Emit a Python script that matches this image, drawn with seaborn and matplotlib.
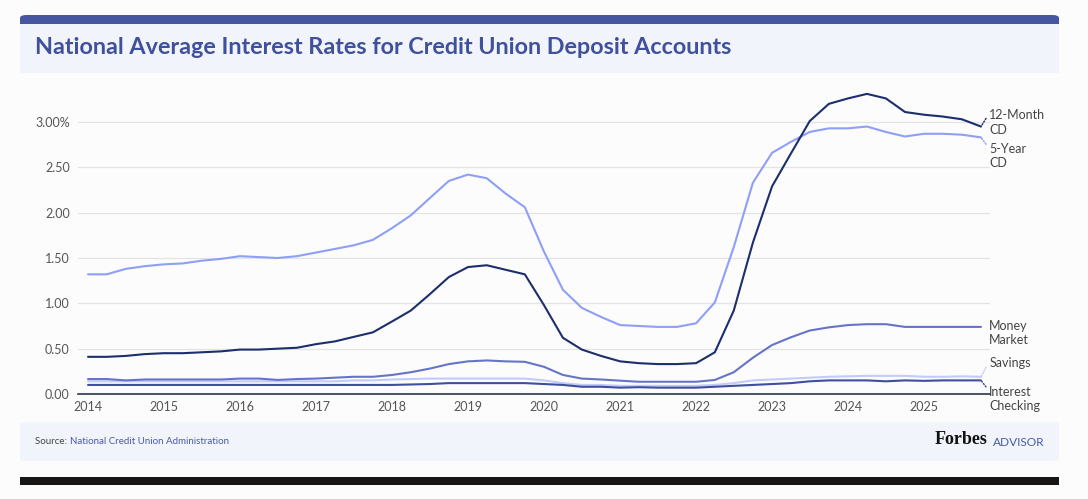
import numpy as np
import pandas as pd
import matplotlib
matplotlib.use("Agg")
import matplotlib.pyplot as plt
import matplotlib.dates as mdates
from matplotlib.patches import FancyBboxPatch, Rectangle
import seaborn as sns

quarters = pd.date_range("2014-01-01", "2025-10-01", freq="QS")

twelve_month_cd = [0.41, 0.41, 0.42, 0.44, 0.45, 0.45, 0.46, 0.47, 0.49, 0.49, 0.50, 0.51,
                   0.55, 0.58, 0.63, 0.68, 0.80, 0.92, 1.10, 1.29, 1.40, 1.42, 1.37, 1.32,
                   0.98, 0.62, 0.49, 0.42, 0.36, 0.34, 0.33, 0.33,
                   0.34, 0.46, 0.92, 1.67, 2.29, 2.65, 3.01, 3.20, 3.26, 3.31, 3.26, 3.11,
                   3.08, 3.06, 3.03, 2.95]
five_year_cd = [1.32, 1.32, 1.38, 1.41, 1.43, 1.44, 1.47, 1.49, 1.52, 1.51, 1.50, 1.52,
                1.56, 1.60, 1.64, 1.70, 1.83, 1.97, 2.16, 2.35, 2.42, 2.38, 2.21, 2.06,
                1.57, 1.15, 0.95, 0.85, 0.76, 0.75, 0.74, 0.74,
                0.78, 1.01, 1.62, 2.33, 2.66, 2.78, 2.89, 2.93, 2.93, 2.95, 2.89, 2.84,
                2.87, 2.87, 2.86, 2.83]
money_market = [0.165, 0.165, 0.15, 0.16, 0.16, 0.16, 0.16, 0.16, 0.17, 0.17, 0.155, 0.165,
                0.17, 0.18, 0.19, 0.19, 0.21, 0.24, 0.28, 0.33, 0.36, 0.37, 0.36, 0.355,
                0.30, 0.21, 0.17, 0.16, 0.147, 0.135, 0.135, 0.135,
                0.135, 0.155, 0.24, 0.40, 0.54, 0.625, 0.70, 0.735, 0.76, 0.77, 0.77, 0.74,
                0.74, 0.74, 0.74, 0.74]
savings = [0.14, 0.14, 0.14, 0.14, 0.14, 0.14, 0.14, 0.14, 0.14, 0.14, 0.14, 0.14,
           0.14, 0.14, 0.15, 0.15, 0.16, 0.165, 0.17, 0.17, 0.17, 0.17, 0.17, 0.17,
           0.15, 0.12, 0.10, 0.10, 0.09, 0.09, 0.09, 0.09,
           0.09, 0.10, 0.12, 0.15, 0.16, 0.17, 0.18, 0.19, 0.195, 0.20, 0.20, 0.20,
           0.19, 0.19, 0.195, 0.19]
interest_checking = [0.10, 0.10, 0.10, 0.10, 0.10, 0.10, 0.10, 0.10, 0.10, 0.10, 0.10, 0.10,
                     0.10, 0.10, 0.10, 0.10, 0.10, 0.105, 0.11, 0.12, 0.12, 0.12, 0.12, 0.12,
                     0.11, 0.10, 0.08, 0.08, 0.07, 0.075, 0.07, 0.07,
                     0.07, 0.08, 0.09, 0.10, 0.11, 0.12, 0.14, 0.15, 0.15, 0.15, 0.14, 0.15,
                     0.145, 0.15, 0.15, 0.15]

series_names = ["Savings", "Money Market", "Interest Checking", "5-Year CD", "12-Month CD"]
series_values = [savings, money_market, interest_checking, five_year_cd, twelve_month_cd]
series_colors = ["#c3cbfb", "#6674c8", "#3f4e9e", "#8e9ff5", "#1c2e6c"]
end_labels = {"12-Month CD": "12-Month\nCD", "5-Year CD": "5-Year\nCD",
              "Money Market": "Money\nMarket", "Savings": "Savings",
              "Interest Checking": "Interest\nChecking"}

y_ticks = [0, 0.5, 1.0, 1.5, 2.0, 2.5, 3.0]
y_tick_labels = ["0.00", "0.50", "1.00", "1.50", "2.00", "2.50", "3.00%"]

df = pd.concat([pd.DataFrame({"date": quarters, "rate": v, "account": n})
                for n, v in zip(series_names, series_values)], ignore_index=True)

W, H = 1088, 499
BG = "#fcfcfd"
PANEL = "#f1f4fa"
BLUE = "#3f509c"

sns.set_theme(style="white")
plt.rcParams["font.family"] = ["Lato", "DejaVu Sans"]

fig = plt.figure(figsize=(W / 100, H / 100), dpi=100, facecolor=BG)


def fx(px):
    return px / W


def fy(py):
    return 1 - py / H


# header bar and title panel
fig.patches.append(FancyBboxPatch((fx(20), fy(32)), fx(1039), 17 / H,
                                  boxstyle="round,pad=0,rounding_size=0.006",
                                  transform=fig.transFigure, fc="#4656a0", ec="none"))
fig.patches.append(Rectangle((fx(20), fy(73)), fx(1039), 49 / H,
                             transform=fig.transFigure, fc=PANEL, ec="none"))
fig.text(fx(35), fy(48), "National Average Interest Rates for Credit Union Deposit Accounts",
         fontsize=16.8, fontweight="bold", color=BLUE, va="center", ha="left")

# footer panel
fig.patches.append(FancyBboxPatch((fx(20), fy(461)), fx(1039), 39 / H,
                                  boxstyle="round,pad=0,rounding_size=0.005",
                                  transform=fig.transFigure, fc=PANEL, ec="none"))
t = fig.text(fx(35), fy(441), "Source: ", fontsize=7, color="#444444", va="center", ha="left")
fig.canvas.draw()
bb = t.get_window_extent()
fig.text(bb.x1 / W, fy(441), "National Credit Union Administration", fontsize=7,
         color="#4a5aa8", va="center", ha="left")
fig.text(fx(988), fy(440), "Forbes", fontsize=13, fontweight="bold", color="#111111",
         family="Liberation Serif", va="center", ha="right")
fig.text(fx(993), fy(442), "ADVISOR", fontsize=8.6, color="#4a5aa8", va="center", ha="left")

# bottom black bar
fig.patches.append(Rectangle((fx(20), fy(485)), fx(1039), 8 / H,
                             transform=fig.transFigure, fc="#171614", ec="none"))

# chart axes
px_per_unit = 90.67
y_top = 3.35
ax = fig.add_axes([fx(78), fy(394), fx(912), y_top * px_per_unit / H])
ax.set_facecolor(BG)

sns.lineplot(data=df, x="date", y="rate", hue="account", palette=series_colors,
             hue_order=series_names, linewidth=1.5, legend=False, ax=ax)

px_per_day = 75.9 / 365.25
ax.set_xlim(pd.Timestamp("2014-01-01") - pd.Timedelta(days=10 / px_per_day),
            pd.Timestamp("2025-10-01") + pd.Timedelta(days=9 / px_per_day))
ax.set_ylim(0, y_top)

ax.set_yticks(y_ticks)
ax.set_yticklabels(y_tick_labels)
ax.xaxis.set_major_locator(mdates.YearLocator())
ax.xaxis.set_major_formatter(mdates.DateFormatter("%Y"))
ax.tick_params(axis="both", length=0, labelsize=9, labelcolor="#555555")
ax.tick_params(axis="y", pad=6)
ax.tick_params(axis="x", pad=5)
ax.grid(axis="y", color="#e4e4e4", linewidth=0.9)
ax.set_axisbelow(True)
for s in ["top", "right", "left"]:
    ax.spines[s].set_visible(False)
ax.spines["bottom"].set_color("#2b3648")
ax.spines["bottom"].set_linewidth(1.2)
ax.set_xlabel("")
ax.set_ylabel("")

# end labels with dotted leaders (offsets in points)
label_offsets = {"12-Month CD": (6, 12.5, (0, 0.85), True),
                 "5-Year CD": (6, -4.0, (0, 0.78), True),
                 "Money Market": (6, 5.0, (0, 0.8), False),
                 "Savings": (6, 14.0, (0, 0.7), True),
                 "Interest Checking": (6, -4.0, (0, 0.8), True)}
for name, vals, col in zip(series_names, series_values, series_colors):
    dx, dy, rel, lead = label_offsets[name]
    arrow = dict(arrowstyle="-", linestyle=(0, (1, 1.2)), color=col, lw=1.0,
                 relpos=rel, shrinkA=0, shrinkB=0) if lead else None
    ax.annotate(end_labels[name], xy=(quarters[-1], vals[-1]), xytext=(dx, dy),
                textcoords="offset points", ha="left", va="top", fontsize=9,
                color="#444444", linespacing=1.25, annotation_clip=False,
                arrowprops=arrow)

fig.savefig("out.png", dpi=100, facecolor=BG)
